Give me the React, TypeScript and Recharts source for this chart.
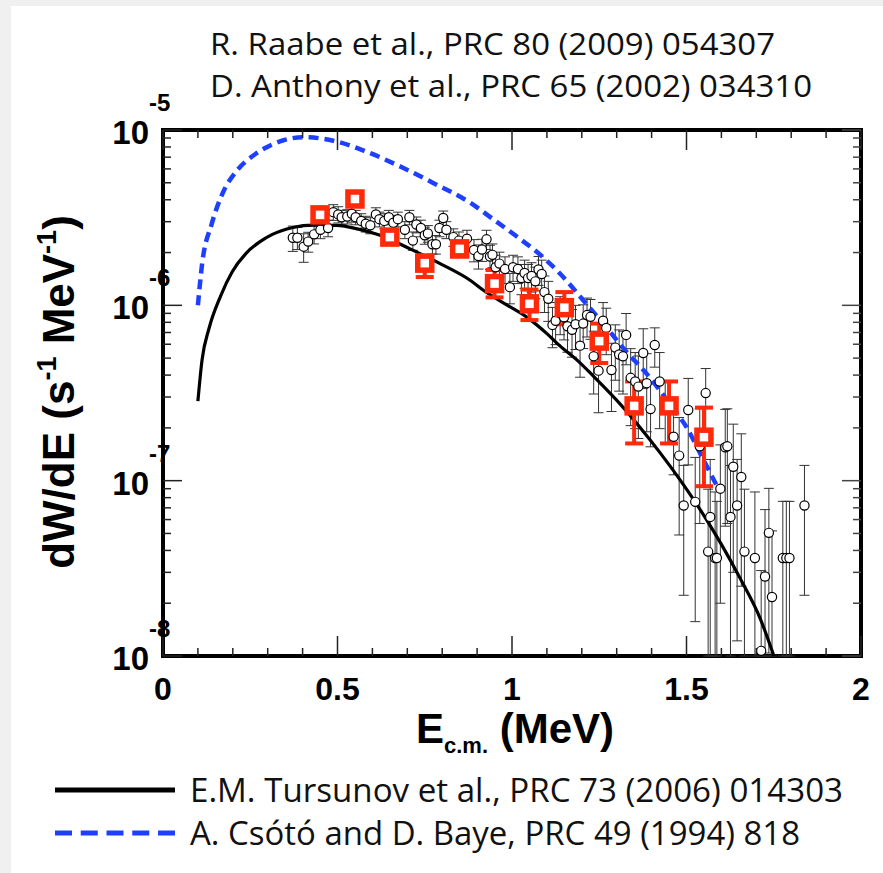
import React from "react";
import { ComposedChart, Line, Scatter, XAxis, YAxis, ErrorBar, ReferenceArea } from "recharts";

const WIDTH = 883;
const HEIGHT = 873;
const PLOT_W = 698;
const PLOT_H = 526;
const UNIT = 1e-6; // values below are given in units of 1e-6 s^-1 MeV^-1
const FLOOR = 0.01; // bottom of the plot (1e-8)

// D. Anthony et al. (open circles)
const anthonyE = [
  0.372, 0.385, 0.403, 0.416, 0.433, 0.451, 0.473, 0.488, 0.502, 0.512, 0.528, 0.541,
  0.552, 0.568, 0.581, 0.594, 0.61, 0.62, 0.634, 0.647, 0.66, 0.673, 0.693, 0.706,
  0.716, 0.726, 0.739, 0.75, 0.759, 0.772, 0.782, 0.792, 0.803, 0.812, 0.832, 0.848,
  0.871, 0.891, 0.904, 0.914, 0.927, 0.937, 0.944, 0.953, 0.964, 0.98, 0.994, 1.003,
  1.017, 1.027, 1.036, 1.046, 1.056, 1.067, 1.076, 1.085, 1.093, 1.104, 1.116, 1.125,
  1.138, 1.149, 1.159, 1.172, 1.182, 1.195, 1.204, 1.215, 1.225, 1.234, 1.248, 1.261,
  1.27, 1.285, 1.296, 1.307, 1.318, 1.327, 1.34, 1.353, 1.362, 1.376, 1.386, 1.397,
  1.409, 1.423, 1.439, 1.463, 1.479, 1.492, 1.505, 1.525, 1.538, 1.555, 1.562, 1.568,
  1.582, 1.587, 1.597, 1.611, 1.617, 1.626, 1.634, 1.645, 1.657, 1.666, 1.696, 1.714,
  1.725, 1.736, 1.745, 1.776, 1.786, 1.795, 1.838,
];
const anthonyW = [
  2.43, 2.43, 2.16, 2.31, 2.54, 2.7, 2.76, 3.4, 3.3, 3.18, 3.21, 3.33,
  3.18, 3.03, 2.92, 2.86, 3.3, 3.1, 3.03, 3.18, 2.96, 3.1, 2.7, 3.18,
  2.34, 2.89, 2.76, 2.51, 2.57, 2.23, 2.23, 2.76, 3.15, 2.7, 2.45, 2.34,
  2.4, 2.07, 1.91, 2.08, 2.38, 1.9, 1.94, 1.65, 1.73, 1.61, 1.27, 1.65,
  1.61, 1.43, 1.53, 1.43, 1.47, 1.37, 1.6, 1.51, 1.19, 1.09, 0.773, 0.817,
  0.9, 0.855, 0.76, 0.726, 0.78, 0.589, 0.787, 0.88, 0.86, 0.512, 0.424, 0.817,
  0.743, 0.428, 0.574, 0.524, 0.512, 0.678, 0.386, 0.368, 0.344, 0.535, 0.36, 0.256,
  0.594, 0.368, 0.265, 0.178, 0.139, 0.0722, 0.253, 0.0757, 0.157, 0.316, 0.0394, 0.0621,
  0.0362, 0.0362, 0.09, 0.155, 0.157, 0.0621, 0.12, 0.0722, 0.105, 0.0394, 0.0362, 0.0107,
  0.0284, 0.0504, 0.0217, 0.0362, 0.0362, 0.0362, 0.0722,
];
const anthonyErr = [
  0.4, 0.35, 0.4, 0.3, 0.3, 0.3, 0.3, 0.35, 0.35, 0.3, 0.3, 0.35,
  0.3, 0.3, 0.3, 0.3, 0.3, 0.3, 0.3, 0.3, 0.3, 0.3, 0.3, 0.3,
  0.28, 0.3, 0.3, 0.28, 0.28, 0.27, 0.27, 0.3, 0.3, 0.3, 0.28, 0.28,
  0.28, 0.3, 0.3, 0.3, 0.3, 0.3, 0.3, 0.28, 0.28, 0.28, 0.25, 0.28,
  0.28, 0.28, 0.28, 0.28, 0.28, 0.28, 0.3, 0.3, 0.28, 0.28, 0.2, 0.22,
  0.22, 0.22, 0.22, 0.22, 0.22, 0.2, 0.22, 0.22, 0.22, 0.2, 0.18, 0.22,
  0.22, 0.18, 0.2, 0.2, 0.2, 0.22, 0.18, 0.17, 0.17, 0.2, 0.17, 0.1,
  0.15, 0.17, 0.1, 0.07, 0.09, 0.05, 0.13, 0.06, 0.1, 0.12, 0.05, 0.07,
  0.05, 0.04, 0.07, 0.1, 0.1, 0.06, 0.09, 0.06, 0.08, 0.05, 0.05, 0.02,
  0.04, 0.04, 0.03, 0.04, 0.04, 0.04, 0.05,
];

// R. Raabe et al. (red squares): value and lower/upper ends of the error bar
const raabeE = [0.45, 0.55, 0.65, 0.75, 0.85, 0.95, 1.05, 1.15, 1.25, 1.35, 1.45, 1.55];
const raabeW = [3.28, 4.04, 2.45, 1.74, 2.1, 1.33, 1.02, 0.97, 0.625, 0.267, 0.267, 0.177];
const raabeLow = [3.05, 3.75, 2.25, 1.45, 1.9, 1.11, 0.824, 0.78, 0.469, 0.163, 0.163, 0.093];
const raabeHigh = [3.52, 4.3, 2.65, 1.92, 2.3, 1.59, 1.23, 1.19, 0.787, 0.368, 0.368, 0.261];

// E.M. Tursunov et al. (solid black)
const tursunovE = [
  0.1, 0.112, 0.132, 0.165, 0.198, 0.238, 0.277, 0.312, 0.372, 0.43, 0.498, 0.56,
  0.622, 0.708, 0.794, 0.88, 0.918, 0.98, 1.042, 1.1, 1.138, 1.185, 1.233, 1.314,
  1.367, 1.424, 1.481, 1.519, 1.559, 1.6, 1.653, 1.711, 1.752,
];
const tursunovW = [
  0.284, 0.49, 0.74, 1.13, 1.55, 1.98, 2.3, 2.53, 2.78, 2.87, 2.86, 2.72,
  2.51, 2.1, 1.73, 1.39, 1.22, 1.02, 0.857, 0.69, 0.585, 0.49, 0.395, 0.268,
  0.201, 0.1445, 0.1014, 0.0787, 0.0592, 0.0433, 0.0279, 0.0164, 0.0098,
];

// A. Csoto and D. Baye (dashed blue)
const csotoE = [
  0.1, 0.112, 0.139, 0.172, 0.211, 0.258, 0.3, 0.343, 0.403, 0.488, 0.581, 0.686,
  0.774, 0.88, 0.946, 1.01, 1.08, 1.14, 1.204, 1.27, 1.329, 1.38, 1.424, 1.46,
  1.5, 1.54, 1.585,
];
const csotoW = [
  1.0, 1.72, 2.89, 4.41, 5.84, 7.13, 8.03, 8.71, 9.1, 8.69, 7.55, 6.11,
  4.99, 3.85, 3.1, 2.5, 1.95, 1.5, 1.07, 0.75, 0.54, 0.42, 0.327, 0.26,
  0.202, 0.142, 0.095,
];

const xTicks = [0, 0.1, 0.2, 0.3, 0.4, 0.5, 0.6, 0.7, 0.8, 0.9, 1, 1.1, 1.2, 1.3, 1.4, 1.5, 1.6, 1.7, 1.8, 1.9, 2];
const xMajor = [0, 0.5, 1, 1.5, 2];
const xMajorLabels = ["0", "0.5", "1", "1.5", "2"];
const yDecades = [-8, -7, -6, -5];
const yMinorSteps = [2, 3, 4, 5, 6, 7, 8, 9];

const yTicks: number[] = [];
yDecades.forEach((d) => {
  yTicks.push(Math.pow(10, d));
  if (d < -5) yMinorSteps.forEach((m) => yTicks.push(m * Math.pow(10, d)));
});

const anthonyData = anthonyE.map((e, i) => {
  const w = anthonyW[i];
  const lo = Math.max(w - anthonyErr[i], FLOOR);
  return { e, w: w * UNIT, err: [(w - lo) * UNIT, anthonyErr[i] * UNIT] };
});
const raabeData = raabeE.map((e, i) => ({
  e,
  w: raabeW[i] * UNIT,
  err: [(raabeW[i] - raabeLow[i]) * UNIT, (raabeHigh[i] - raabeW[i]) * UNIT],
}));
const tursunovData = tursunovE.map((e, i) => ({ e, w: tursunovW[i] * UNIT }));
const csotoData = csotoE.map((e, i) => ({ e, w: csotoW[i] * UNIT }));

const AXIS_FONT = "'Liberation Sans', Arial, Helvetica, sans-serif";
const TEXT_FONT = "'Open Sans', 'Noto Sans', sans-serif";
const BLUE = "#1f3fff";
const RED = "#ff2a0a";

const XTick = (props: any) => {
  const { x, y, payload } = props;
  const idx = xMajor.findIndex((m) => Math.abs(m - payload.value) < 1e-6);
  const len = idx >= 0 ? 20 : 8;
  return (
    <g>
      <line x1={x} x2={x} y1={y} y2={y - len} stroke="#222" strokeWidth={1.5} />
      <line x1={x} x2={x} y1={y - PLOT_H} y2={y - PLOT_H + len} stroke="#222" strokeWidth={1.5} />
      {idx >= 0 && (
        <text x={x} y={y + 44} textAnchor="middle" fontFamily={AXIS_FONT} fontWeight="bold" fontSize={32} fill="#000">
          {xMajorLabels[idx]}
        </text>
      )}
    </g>
  );
};

const YTick = (props: any) => {
  const { x, y, payload } = props;
  const v = payload.value;
  const exp = Math.round(Math.log10(v));
  const major = Math.abs(v / Math.pow(10, exp) - 1) < 1e-6;
  const len = major ? 19 : 8;
  return (
    <g>
      <line x1={x} x2={x + len} y1={y} y2={y} stroke="#222" strokeWidth={1.5} />
      <line x1={x + PLOT_W - len} x2={x + PLOT_W} y1={y} y2={y} stroke="#444" strokeWidth={1.5} />
      {major && (
        <text x={x - 14} y={y + 14} textAnchor="end" fontFamily={AXIS_FONT} fontWeight="bold" fontSize={33} fill="#000">
          10
        </text>
      )}
      {major && (
        <text x={x - 14} y={y - 19} textAnchor="start" fontFamily={AXIS_FONT} fontWeight="bold" fontSize={24} fill="#000">
          {exp}
        </text>
      )}
    </g>
  );
};

const OpenCircle = (props: any) => (
  <circle cx={props.cx} cy={props.cy} r={4.6} fill="#fff" stroke="#000" strokeWidth={1.2} />
);

const RedSquare = (props: any) => (
  <rect x={props.cx - 7} y={props.cy - 7} width={14} height={14} fill="#fff" stroke={RED} strokeWidth={5.5} />
);

export default function App() {
  return (
    <div style={{ position: "absolute", left: 0, top: 0, width: WIDTH, height: HEIGHT, background: "#f0f0f0" }}>
      <div style={{ position: "absolute", left: 11, top: 6, right: 0, bottom: 0, background: "#fff" }} />
      <div style={{ position: "absolute", left: 0, top: 0 }}>
        <ComposedChart width={WIDTH} height={HEIGHT} margin={{ top: 130, right: 22, bottom: 157, left: 0 }}>
          <XAxis
            type="number"
            dataKey="e"
            domain={[0, 2]}
            ticks={xTicks}
            interval={0}
            tick={<XTick />}
            tickSize={0}
            tickMargin={0}
            tickLine={false}
            axisLine={false}
            height={60}
            allowDataOverflow
          />
          <YAxis
            type="number"
            scale="log"
            domain={[1e-8, 1e-5]}
            ticks={yTicks}
            interval={0}
            tick={<YTick />}
            tickSize={0}
            tickMargin={0}
            tickLine={false}
            axisLine={false}
            width={163}
            allowDataOverflow
          />
          <Scatter data={anthonyData} dataKey="w" shape={<OpenCircle />} isAnimationActive={false}>
            <ErrorBar dataKey="err" direction="y" width={5} stroke="#333" strokeWidth={1} />
          </Scatter>
          <Line
            data={tursunovData}
            dataKey="w"
            type="monotone"
            stroke="#000"
            strokeWidth={3.2}
            dot={false}
            activeDot={false}
            isAnimationActive={false}
          />
          <Line
            data={csotoData}
            dataKey="w"
            type="monotone"
            stroke={BLUE}
            strokeWidth={4.5}
            strokeDasharray="10 6"
            dot={false}
            activeDot={false}
            isAnimationActive={false}
          />
          <Scatter data={raabeData} dataKey="w" shape={<RedSquare />} isAnimationActive={false}>
            <ErrorBar dataKey="err" direction="y" width={9} stroke={RED} strokeWidth={4} />
          </Scatter>
          <ReferenceArea x1={0} x2={2} y1={1e-8} y2={1e-5} fill="none" stroke="#000" strokeWidth={4} />
        </ComposedChart>
      </div>
      <svg width={WIDTH} height={HEIGHT} style={{ position: "absolute", left: 0, top: 0, pointerEvents: "none" }}>
        <text x={210} y={55} fontFamily={TEXT_FONT} fontSize={31} textLength={565} lengthAdjust="spacingAndGlyphs" fill="#111">
          R. Raabe et al., PRC 80 (2009) 054307
        </text>
        <text x={210} y={97} fontFamily={TEXT_FONT} fontSize={31} textLength={602} lengthAdjust="spacingAndGlyphs" fill="#111">
          D. Anthony et al., PRC 65 (2002) 034310
        </text>
        <text
          x={74}
          y={392}
          textAnchor="middle"
          transform="rotate(-90 74 392)"
          fontFamily={AXIS_FONT}
          fontWeight="bold"
          fontSize={44}
          fill="#000"
        >
          dW/dE (s
          <tspan fontSize={27} dy={-18}>-1</tspan>
          <tspan dy={18}> MeV</tspan>
          <tspan fontSize={27} dy={-18}>-1</tspan>
          <tspan dy={18}>)</tspan>
        </text>
        <text x={515} y={743} textAnchor="middle" fontFamily={AXIS_FONT} fontWeight="bold" fontSize={42} fill="#000">
          E
          <tspan fontSize={22} dy={10}>c.m.</tspan>
          <tspan dy={-10}> (MeV)</tspan>
        </text>
        <line x1={55} x2={175} y1={790} y2={790} stroke="#000" strokeWidth={5} />
        <text x={190} y={802} fontFamily={TEXT_FONT} fontSize={32} textLength={653} lengthAdjust="spacingAndGlyphs" fill="#111">
          E.M. Tursunov et al., PRC 73 (2006) 014303
        </text>
        <line x1={55} x2={175} y1={833} y2={833} stroke={BLUE} strokeWidth={5} strokeDasharray="17 8.75" />
        <text x={190} y={845} fontFamily={TEXT_FONT} fontSize={32} textLength={610} lengthAdjust="spacingAndGlyphs" fill="#111">
          A. Csótó and D. Baye, PRC 49 (1994) 818
        </text>
      </svg>
    </div>
  );
}
